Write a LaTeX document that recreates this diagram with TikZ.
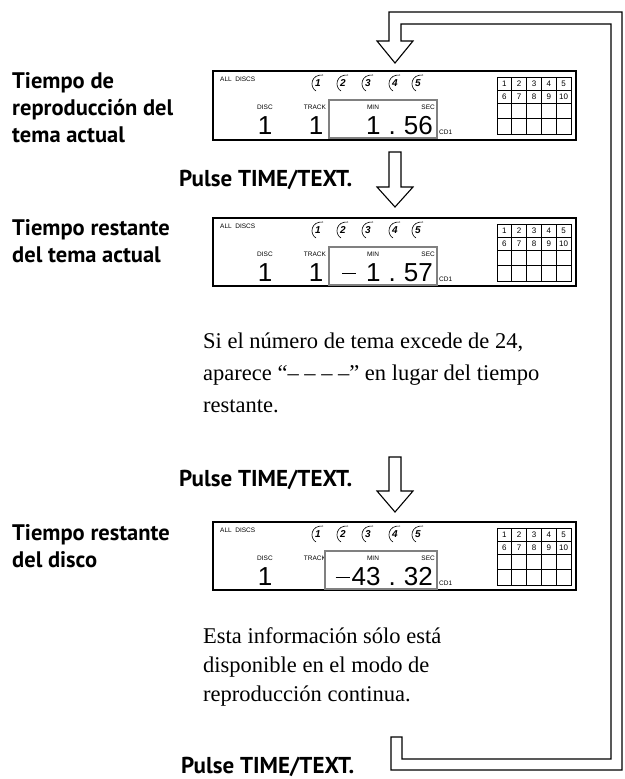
\documentclass[tikz,border=0pt]{standalone}
\usepackage{fontspec}
\setmainfont{Liberation Serif}
\newfontfamily\labfont{PT Sans}
\newfontfamily\lcdfont{Liberation Sans}
\begin{document}
\begin{tikzpicture}[x=1pt,y=-1pt,
    lcdsmall/.style={font=\lcdfont\fontsize{6.5}{7}\selectfont,inner sep=0},
    lcdbig/.style={font=\lcdfont\fontsize{26}{26}\selectfont,inner sep=0},
    discno/.style={font=\lcdfont\itshape\bfseries\fontsize{10}{10}\selectfont,inner sep=0},
    gridno/.style={font=\lcdfont\fontsize{8}{8}\selectfont,inner sep=0},
    steplabel/.style={font=\labfont\bfseries\fontsize{22.5}{27}\selectfont,align=left,anchor=north west,inner sep=0},
    notetext/.style={font=\fontsize{22.5}{#1}\selectfont,align=left,anchor=north west,inner sep=0},
    pressnote/.style={font=\labfont\bfseries\fontsize{23}{24}\selectfont,anchor=west,inner sep=0},
    hollow/.style={draw,line width=1.1pt,fill=white,line join=miter},
    lcdframe/.style={draw,line width=1.4pt},
    timebox/.style={draw=gray,line width=1.6pt},
  ]
  \useasboundingbox (0,0) rectangle (624,779);

  % loop back to the top
  \draw[hollow] (391,737) -- (402,737) -- (402,759) -- (611,759) -- (611,24) -- (401,24)
    -- (401,41) -- (413,41) -- (395,63) -- (377,41) -- (389,41) -- (389,12)
    -- (622,12) -- (622,770) -- (391,770) -- cycle;
  \draw[hollow] (389,152) -- (401,152) -- (401,187) -- (413,187) -- (395,207) -- (377,187) -- (389,187) -- cycle;
  \draw[hollow] (389,457) -- (401,457) -- (401,491) -- (413,491) -- (395,512) -- (377,491) -- (389,491) -- cycle;

  \node[steplabel] (labPlay) at (12,72) {Tiempo de\\reproducción del\\tema actual};
  \node[pressnote] (pressA) at (179,180) {Pulse TIME/TEXT.};
  \node[steplabel] (labTrack) at (12,219) {Tiempo restante\\del tema actual};
  \node[notetext=32] (noteTrack) at (203,333) {Si el número de tema excede de 24,\\aparece “– – – –” en lugar del tiempo\\restante.};
  \node[pressnote] (pressB) at (179,480) {Pulse TIME/TEXT.};
  \node[steplabel] (labDisc) at (12,524) {Tiempo restante\\del disco};
  \node[notetext=29] (noteDisc) at (203,627) {Esta información sólo está\\disponible en el modo de\\reproducción continua.};
  \node[pressnote] (pressC) at (181,767) {Pulse TIME/TEXT.};

  \begin{scope}[shift={(213,71)}]
    \draw[lcdframe] (0,0) rectangle (363,69);
    \node[lcdsmall,anchor=west] (allA) at (7,8) {ALL\ \ DISCS};
    \foreach \i/\x in {1/105,2/130,3/155,4/182,5/205}{
      \node[discno] (discA\i) at (\x,12) {\i};
      \draw[line width=.6pt] (\x+5,4) .. controls (\x-7,3) and (\x-9,16) .. (\x-2,20);
    }
    \draw[line width=.7pt] (284,6) rectangle (358,63);
    \foreach \k in {1,...,4} \draw[line width=.7pt] (284+14.8*\k,6) -- (284+14.8*\k,63);
    \foreach \k in {19,32,47} \draw[line width=.7pt] (284,\k) -- (358,\k);
    \foreach \n in {1,...,5}{
      \node[gridno] (gA\n) at (276.6+14.8*\n,13) {\n};
      \node[gridno] (gB\n) at (276.6+14.8*\n,26) {\the\numexpr\n+5\relax};
    }
    \node[lcdsmall] (discA) at (52,36) {DISC};
    \node[lcdsmall] (trackA) at (102,36) {TRACK};
    \node[lcdbig] (dnA) at (52,55) {1};
    \node[lcdbig] (tnA) at (103,55) {1};
    \draw[timebox] (116,29) rectangle (224,67);
    \node[lcdsmall] (minA) at (160,36) {MIN};
    \node[lcdsmall,anchor=east] (secA) at (222,36) {SEC};
    \node[lcdbig,anchor=east] (timeA) at (220,55) {1\hspace{8pt}.\hspace{8pt}56};
    \node[lcdsmall,anchor=west] (cdA) at (226,61) {CD1};
  \end{scope}

  \begin{scope}[shift={(213,218)}]
    \draw[lcdframe] (0,0) rectangle (363,68);
    \node[lcdsmall,anchor=west] (allB) at (7,8) {ALL\ \ DISCS};
    \foreach \i/\x in {1/105,2/130,3/155,4/182,5/205}{
      \node[discno] (discB\i) at (\x,12) {\i};
      \draw[line width=.6pt] (\x+5,4) .. controls (\x-7,3) and (\x-9,16) .. (\x-2,20);
    }
    \draw[line width=.7pt] (284,6) rectangle (358,63);
    \foreach \k in {1,...,4} \draw[line width=.7pt] (284+14.8*\k,6) -- (284+14.8*\k,63);
    \foreach \k in {19,32,47} \draw[line width=.7pt] (284,\k) -- (358,\k);
    \foreach \n in {1,...,5}{
      \node[gridno] (gC\n) at (276.6+14.8*\n,13) {\n};
      \node[gridno] (gD\n) at (276.6+14.8*\n,26) {\the\numexpr\n+5\relax};
    }
    \node[lcdsmall] (discB) at (52,36) {DISC};
    \node[lcdsmall] (trackB) at (102,36) {TRACK};
    \node[lcdbig] (dnB) at (52,55) {1};
    \node[lcdbig] (tnB) at (103,55) {1};
    \draw[timebox] (116,29) rectangle (224,67);
    \node[lcdsmall] (minB) at (160,36) {MIN};
    \node[lcdsmall,anchor=east] (secB) at (222,36) {SEC};
    \node[lcdbig,anchor=east] (timeB) at (220,55) {\rule[8pt]{14pt}{1.3pt}\hspace{10pt}1\hspace{8pt}.\hspace{8pt}57};
    \node[lcdsmall,anchor=west] (cdB) at (226,61) {CD1};
  \end{scope}

  \begin{scope}[shift={(213,522)}]
    \draw[lcdframe] (0,0) rectangle (363,68);
    \node[lcdsmall,anchor=west] (allC) at (7,8) {ALL\ \ DISCS};
    \foreach \i/\x in {1/105,2/130,3/155,4/182,5/205}{
      \node[discno] (discC\i) at (\x,12) {\i};
      \draw[line width=.6pt] (\x+5,4) .. controls (\x-7,3) and (\x-9,16) .. (\x-2,20);
    }
    \draw[line width=.7pt] (284,6) rectangle (358,63);
    \foreach \k in {1,...,4} \draw[line width=.7pt] (284+14.8*\k,6) -- (284+14.8*\k,63);
    \foreach \k in {19,32,47} \draw[line width=.7pt] (284,\k) -- (358,\k);
    \foreach \n in {1,...,5}{
      \node[gridno] (gE\n) at (276.6+14.8*\n,13) {\n};
      \node[gridno] (gF\n) at (276.6+14.8*\n,26) {\the\numexpr\n+5\relax};
    }
    \node[lcdsmall] (discC) at (52,36) {DISC};
    \node[lcdsmall] (trackC) at (102,36) {TRACK};
    \node[lcdbig] (dnC) at (52,55) {1};
    \draw[timebox,fill=white] (112,29) rectangle (224,67);
    \node[lcdsmall] (minC) at (160,36) {MIN};
    \node[lcdsmall,anchor=east] (secC) at (222,36) {SEC};
    \node[lcdbig,anchor=east] (timeC) at (220,55) {\rule[8pt]{14pt}{1.3pt}\hspace{2pt}43\hspace{8pt}.\hspace{8pt}32};
    \node[lcdsmall,anchor=west] (cdC) at (226,61) {CD1};
  \end{scope}
\end{tikzpicture}
\end{document}
